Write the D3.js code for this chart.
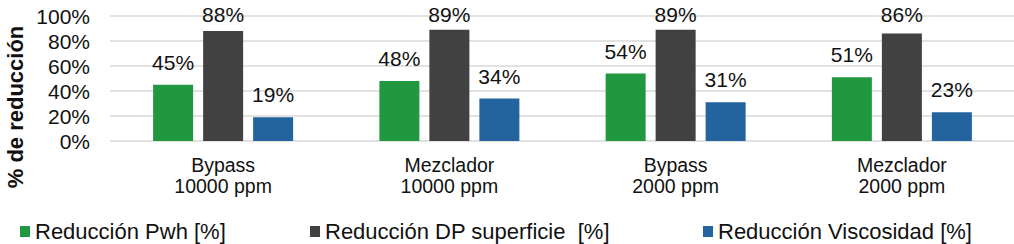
<!DOCTYPE html>
<html lang="es">
<head>
  <meta charset="UTF-8">
  <title>% de reducción</title>
  <style>
    body { margin: 0; background: #fff; }
    svg { display: block; font-family: Arial, "Liberation Sans", sans-serif; }
    .grid line { stroke: #d9d9d9; stroke-width: 1.5; }
    .tick-label, .cat-label, .bar-label, .legend text { fill: #111; }
  </style>
</head>
<body>
  <div id="chart"></div>
  <script src="https://cdn.jsdelivr.net/npm/d3@7"></script>
  <script>
    // data
    const categories = [['Bypass', '10000 ppm'], ['Mezclador', '10000 ppm'], ['Bypass', '2000 ppm'], ['Mezclador', '2000 ppm']];
    const seriesNames = ['Reducción Pwh [%]', 'Reducción DP superficie  [%]', 'Reducción Viscosidad [%]'];
    const pwh = [45, 48, 54, 51];
    const dpSuperficie = [88, 89, 89, 86];
    const viscosidad = [19, 34, 31, 23];
    const yTicks = [0, 20, 40, 60, 80, 100];
    const colors = ['#21983f', '#414141', '#23639e'];

    const W = 1014, H = 244;
    const plot = {left: 110, right: 1015, top: 16, bottom: 141};

    const svg = d3.select('#chart').append('svg')
      .attr('width', W).attr('height', H);

    const series = [pwh, dpSuperficie, viscosidad];
    const rows = categories.map((c, i) => ({cat: i, values: series.map((s, j) => ({s: j, v: s[i]}))}));

    const x0 = d3.scaleBand().domain(d3.range(categories.length)).range([plot.left, plot.right]);
    const x1 = d3.scaleBand().domain(d3.range(series.length)).range([0, 140]).paddingInner(0.2);
    const y = d3.scaleLinear().domain([0, 100]).range([plot.bottom, plot.top]);

    // gridlines
    svg.append('g').attr('class', 'grid')
      .selectAll('line').data(yTicks).join('line')
      .attr('x1', plot.left).attr('x2', W)
      .attr('y1', d => y(d)).attr('y2', d => y(d));

    // y tick labels
    svg.append('g').selectAll('text').data(yTicks).join('text')
      .attr('class', 'tick-label')
      .attr('x', 90).attr('y', d => y(d) + 7.5)
      .attr('text-anchor', 'end')
      .style('font-size', '21px')
      .text(d => d + '%');

    // y axis title
    svg.append('text')
      .attr('transform', `translate(23,107) rotate(-90)`)
      .attr('text-anchor', 'middle')
      .style('font-size', '22px').style('font-weight', 'bold')
      .attr('fill', '#111')
      .text('% de reducción');

    // bars
    const groups = svg.append('g').selectAll('g').data(rows).join('g')
      .attr('transform', d => `translate(${x0(d.cat) + x0.bandwidth() / 2 - 70},0)`);

    groups.selectAll('rect').data(d => d.values).join('rect')
      .attr('x', d => x1(d.s))
      .attr('width', x1.bandwidth())
      .attr('y', d => y(d.v))
      .attr('height', d => y(0) - y(d.v))
      .attr('fill', d => colors[d.s]);

    groups.selectAll('text').data(d => d.values).join('text')
      .attr('class', 'bar-label')
      .attr('x', d => x1(d.s) + x1.bandwidth() / 2)
      .attr('y', d => Math.max(y(d.v) - 15, 21.5))
      .attr('text-anchor', 'middle')
      .style('font-size', '21px')
      .text(d => d.v + '%');

    // category labels (two lines)
    const cats = svg.append('g').selectAll('text').data(categories).join('text')
      .attr('class', 'cat-label')
      .attr('text-anchor', 'middle')
      .style('font-size', '19.5px');
    cats.each(function (d, i) {
      const cx = x0(i) + x0.bandwidth() / 2;
      d3.select(this).selectAll('tspan').data(d).join('tspan')
        .attr('x', cx)
        .attr('y', (t, k) => 172 + k * 21)
        .text(t => t);
    });

    // legend
    const legendX = [20, 310, 703];
    const legend = svg.append('g').attr('class', 'legend')
      .selectAll('g').data(seriesNames).join('g')
      .attr('transform', (d, i) => `translate(${legendX[i]},0)`);
    legend.append('rect')
      .attr('x', 0).attr('y', 226).attr('width', 10).attr('height', 11)
      .attr('fill', (d, i) => colors[i]);
    legend.append('text')
      .attr('x', 15).attr('y', 239)
      .style('font-size', '22px')
      .style('white-space', 'pre')
      .attr('xml:space', 'preserve')
      .text(d => d);
  </script>
</body>
</html>
